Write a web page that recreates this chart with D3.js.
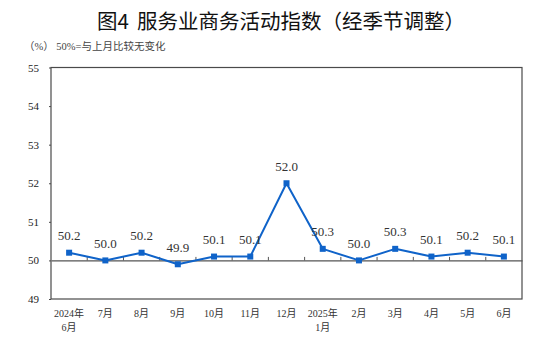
<!DOCTYPE html>
<html>
<head>
<meta charset="utf-8">
<script src="https://cdn.jsdelivr.net/npm/d3@7"></script>
<style>
  html, body { margin: 0; padding: 0; background: #fff; }
  svg { display: block; }
</style>
</head>
<body>
<svg id="chart" width="543" height="341"></svg>
<script>
// Service-sector business activity index, seasonally adjusted
const monthTop = ["2024年", "7月", "8月", "9月", "10月", "11月", "12月", "2025年", "2月", "3月", "4月", "5月", "6月"];
const monthBottom = ["6月", "", "", "", "", "", "", "1月", "", "", "", "", ""];
const values = [50.2, 50.0, 50.2, 49.9, 50.1, 50.1, 52.0, 50.3, 50.0, 50.3, 50.1, 50.2, 50.1];
const yTicks = [49, 50, 51, 52, 53, 54, 55];

const svg = d3.select("#chart");
const W = 543, H = 341;
const m = { left: 51, right: 21, top: 67.5, bottom: 42 };
const x0 = m.left, x1 = W - m.right, y0 = H - m.bottom, y1 = m.top;

const keys = d3.range(values.length);
const x = d3.scaleBand().domain(keys).range([x0, x1]).paddingInner(0).paddingOuter(0);
const y = d3.scaleLinear().domain([49, 55]).range([y0, y1]);
const serif = "'Liberation Serif', 'Times New Roman', 'Noto Sans CJK SC', serif";
const cjk = "'Noto Sans CJK SC', 'Noto Sans', sans-serif";

// Title: figure number, then the chart name after a gap
const title = svg.append("text")
  .attr("x", 97).attr("y", 29)
  .attr("font-family", cjk)
  .attr("font-size", 20.5)
  .attr("font-weight", 400)
  .attr("fill", "#111");
title.append("tspan").text("图4");
title.append("tspan").attr("dx", 8).text("服务业商务活动指数（经季节调整）");

// Unit note
svg.append("text")
  .attr("x", 24).attr("y", 50)
  .attr("font-family", serif)
  .attr("font-size", 10.5)
  .attr("fill", "#444")
  .text("（%） 50%=与上月比较无变化");

// Plot frame
svg.append("rect")
  .attr("x", x0).attr("y", y1)
  .attr("width", x1 - x0).attr("height", y0 - y1)
  .attr("fill", "none")
  .attr("stroke", "#4a4a4a")
  .attr("stroke-width", 1.2);

// Y axis
const yAxis = d3.axisLeft(y).tickValues(yTicks).tickSize(2).tickPadding(10).tickFormat(d3.format("d"));
const gy = svg.append("g").attr("transform", `translate(${x0},0)`).call(yAxis);
gy.select(".domain").remove();
gy.selectAll(".tick line").attr("stroke", "#4a4a4a");
gy.selectAll(".tick text")
  .attr("font-family", serif).attr("font-size", 11).attr("fill", "#222");

// Reference line at 50 with band-boundary ticks pointing up
const baseY = y(50);
const xAxis = d3.axisTop(x).tickSize(0).tickFormat("");
const gx = svg.append("g").attr("transform", `translate(0,${baseY})`).call(xAxis);
gx.select(".domain").attr("stroke", "#555").attr("stroke-width", 1.2);
gx.selectAll(".tick").remove();
gx.selectAll("line.bt")
  .data(keys.slice(1))
  .join("line")
  .attr("class", "bt")
  .attr("x1", d => x(d)).attr("x2", d => x(d))
  .attr("y1", 0).attr("y2", -3.5)
  .attr("stroke", "#555").attr("stroke-width", 1);

// Category labels
const cx = d => x(d) + x.bandwidth() / 2;
const lab = svg.append("g")
  .attr("font-family", serif).attr("font-size", 10).attr("fill", "#333")
  .attr("text-anchor", "middle");
lab.selectAll("text.t1").data(keys).join("text")
  .attr("class", "t1")
  .attr("x", cx).attr("y", y0 + 18)
  .text(d => monthTop[d]);
lab.selectAll("text.t2").data(keys.filter(d => monthBottom[d])).join("text")
  .attr("class", "t2")
  .attr("x", cx).attr("y", y0 + 32)
  .text(d => monthBottom[d]);

// Series line
const color = "#0f63c9";
const line = d3.line().x(d => cx(d)).y(d => y(values[d]));
svg.append("path")
  .datum(keys)
  .attr("d", line)
  .attr("fill", "none")
  .attr("stroke", color)
  .attr("stroke-width", 2)
  .attr("stroke-linejoin", "round");

// Square markers
const ms = 6;
svg.selectAll("rect.pt").data(keys).join("rect")
  .attr("class", "pt")
  .attr("x", d => cx(d) - ms / 2).attr("y", d => y(values[d]) - ms / 2)
  .attr("width", ms).attr("height", ms)
  .attr("fill", color);

// Value labels
svg.selectAll("text.val").data(keys).join("text")
  .attr("class", "val")
  .attr("x", cx).attr("y", d => y(values[d]) - 12.5)
  .attr("text-anchor", "middle")
  .attr("font-family", serif).attr("font-size", 13).attr("fill", "#333")
  .text(d => values[d].toFixed(1));
</script>
</body>
</html>
